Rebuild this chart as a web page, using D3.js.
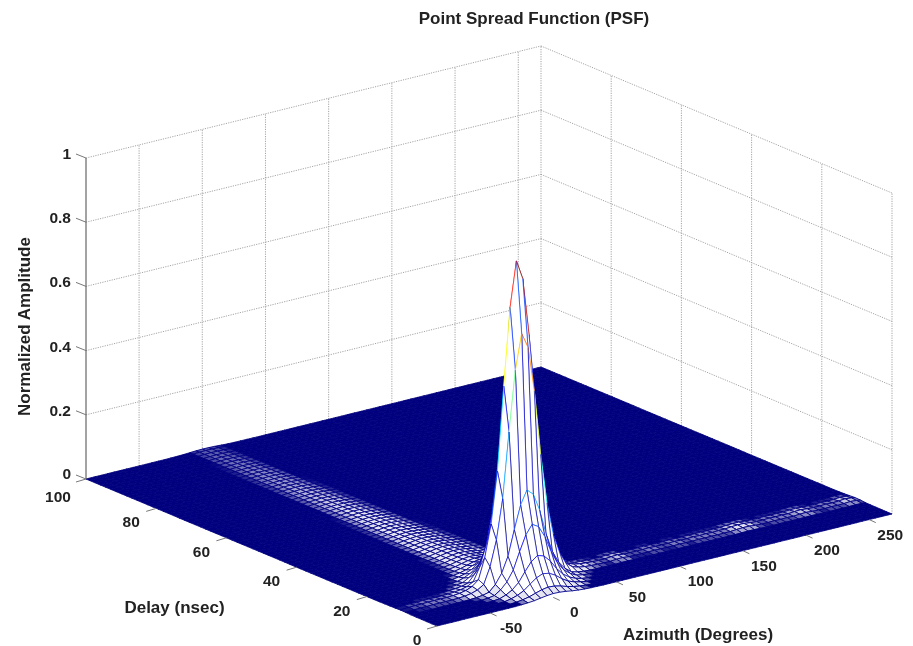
<!DOCTYPE html>
<html><head><meta charset="utf-8">
<script src="https://cdnjs.cloudflare.com/ajax/libs/d3/7.8.5/d3.min.js"></script>
<style>html,body{margin:0;background:#fff}svg{display:block;filter:blur(.4px)}
text{font-family:"Liberation Sans",Arial,sans-serif;font-weight:bold;fill:#222}</style>
</head><body><svg id="c" width="913" height="646"></svg>
<script>
const title="Point Spread Function (PSF)", xLabel="Azimuth (Degrees)", yLabel="Delay (nsec)", zLabel="Normalized Amplitude";
const azTicks=[-50,0,50,100,150,200,250];
const delayTicks=[0,20,40,60,80,100];
const zTicks=[0,0.2,0.4,0.6,0.8,1];
const zTickLabels=["0","0.2","0.4","0.6","0.8","1"];
const azimuth=[-92,-85,-80,-75,-70,-65,-60,-55,-50,-45,-40,-35,-30,-25,-20,-15,-10,-5,0,5,10,15,20,25,30,35,40,45,50,55,60,65,70,75,80,85,90,95,100,105,110,115,120,125,130,135,140,145,150,155,160,165,170,175,180,185,190,195,200,205,210,215,220,225,230,235,240,245,250,255,260,265,268];
const azProfile=[.002,.003,.004,.004,.005,.005,.005,.005,.006,.008,.012,.02,.036,.1,.2,.36,.62,.86,1,.94,.76,.5,.3,.17,.09,.04,.02,.012,.008,.006,.005,.004,.004,.006,.007,.004,.004,.004,.004,.005,.004,.004,.004,.005,.004,.004,.005,.004,.005,.004,.005,.005,.007,.008,.008,.005,.004,.004,.005,.004,.005,.004,.006,.007,.005,.004,.004,.005,.004,.005,.007,.005,.003];
const delay=[0,1.5,3,4.5,6,7.5,9,10.5,12,13.5,15,16.5,18,19.5,21,22.5,24,25.5,27,28.5,30,31.5,33,34.5,36,37.5,39,40.5,42,43.5,45,46.5,48,49.5,51,52.5,54,55.5,57,58.5,60,61.5,63,64.5,66,67.5,69,70.5,72,73.5,75,76.5,78,79.5,81,82.5,84,85.5,87,88.5,90,91.5,93,94.5,96,97.5,99,100];
const delayProfile=[.012,.025,.06,.11,.2,.3,.78,1,.62,.33,.17,.09,.05,.03,.022,.019,.017,.016,.015,.015,.014,.014,.013,.013,.012,.012,.011,.011,.01,.01,.0098,.0095,.0092,.009,.0088,.0085,.0083,.008,.0078,.0076,.0075,.0073,.0072,.007,.0068,.0066,.0065,.0063,.0062,.006,.0058,.0057,.0056,.0055,.0054,.0053,.0052,.005,.0049,.0048,.0047,.0046,.0045,.0044,.0043,.0042,.0041,.004];

const az=d3.scaleLinear().domain([-92,268]).range([0,1]);
const de=d3.scaleLinear().domain([0,100]).range([0,1]);
const zs=d3.scaleLinear().domain([0,1]).range([0,321]);
function P(a,d,z){const u=az(a),v=de(d);return [437+u*455-v*351,626-u*112-v*147-zs(z)];}
const jet=d3.scaleLinear().domain([0,.125,.375,.625,.875,1]).range(["#00007f","#0000ff","#00ffff","#ffff00","#ff0000","#800000"]).clamp(true);
const svg=d3.select("#c");
const line=(g,a,b,col,w,op)=>g.append("line").attr("x1",a[0]).attr("y1",a[1]).attr("x2",b[0]).attr("y2",b[1]).attr("stroke",col).attr("stroke-width",w).attr("stroke-opacity",op||null);
const A0=-92,A1=268,D1=100;
const wall=svg.append("g").attr("stroke-dasharray","1.2 1.2");
const gc="#a4a4a4";
zTicks.forEach(z=>{
  line(wall,P(A0,D1,z),P(A1,D1,z),gc,1);
  line(wall,P(A1,D1,z),P(A1,0,z),gc,1);
});
azTicks.forEach(a=>line(wall,P(a,D1,0),P(a,D1,1),gc,1));
delayTicks.filter(d=>d>0&&d<100).forEach(d=>line(wall,P(A1,d,0),P(A1,d,1),gc,1));
line(wall,P(A1,D1,0),P(A1,D1,1),gc,1);
line(wall,P(A1,0,0),P(A1,0,1),gc,1);
const surf=svg.append("g");
const H=(i,j)=>azProfile[i]*delayProfile[j];
const navy="#00007f";
const mix=d3.interpolateRgb(navy,"#ffffff");
for(let j=delay.length-2;j>=0;j--){
  for(let i=azimuth.length-2;i>=0;i--){
    const zz=[H(i,j),H(i+1,j),H(i+1,j+1),H(i,j+1)];
    const pts=[P(azimuth[i],delay[j],zz[0]),P(azimuth[i+1],delay[j],zz[1]),P(azimuth[i+1],delay[j+1],zz[2]),P(azimuth[i],delay[j+1],zz[3])];
    const top=d3.max(zz), px=zs(top);
    const path="M"+pts.map(p=>p[0].toFixed(1)+","+p[1].toFixed(1)).join("L")+"Z";
    if(px<=.9){surf.append("path").attr("d",path).attr("fill",navy).attr("stroke",navy).attr("stroke-width",.8);continue;}
    const steep=top>.03;
    const t=steep?1:Math.min(.9,Math.pow((px-.9)/2,.7));
    surf.append("path").attr("d",path).attr("fill",mix(t));
    const w=steep?.9:.9, op=steep?.75:1;
    line(surf,pts[0],pts[1],jet(zz[0]),w,op);
    line(surf,pts[0],pts[3],jet(Math.min(zz[0],zz[3])*.25),w,op);
    line(surf,pts[1],pts[2],jet(Math.min(zz[1],zz[2])*.25),w,op);
    line(surf,pts[3],pts[2],jet(zz[3]),w,op);
  }
}
const ax=svg.append("g"),tc="#777";
line(ax,P(A0,D1,0),P(A0,D1,1),"#666",1.2);
const tickEnd=(p,dx,dy)=>[p[0]+dx,p[1]+dy];
const fs=15.5;
zTicks.forEach((z,k)=>{const p=P(A0,D1,z);line(ax,p,tickEnd(p,-10,-4),tc,1);
  ax.append("text").attr("x",p[0]-15).attr("y",p[1]+(z===0?0:1)).attr("text-anchor","end").attr("font-size",fs).text(zTickLabels[k]);});
azTicks.forEach(a=>{const p=P(a,0,0);line(ax,p,tickEnd(p,6.5,3),tc,1);
  ax.append("text").attr("x",p[0]+21).attr("y",p[1]+20).attr("text-anchor","middle").attr("font-size",fs).text(a);});
delayTicks.forEach(d=>{const p=P(A0,d,0);line(ax,p,tickEnd(p,-10,3),tc,1);
  ax.append("text").attr("x",p[0]+(d===100?-28:d===0?-20:-25)).attr("y",p[1]+(d===100?23:19)).attr("text-anchor","middle").attr("font-size",fs).text(d);});
svg.append("text").attr("x",534).attr("y",24).attr("text-anchor","middle").attr("font-size",17).text(title);
svg.append("text").attr("x",174.5).attr("y",613).attr("text-anchor","middle").attr("font-size",17).text(yLabel);
svg.append("text").attr("x",698).attr("y",640).attr("text-anchor","middle").attr("font-size",17).text(xLabel);
svg.append("text").attr("transform","translate(30,326.5) rotate(-90)").attr("text-anchor","middle").attr("font-size",17).text(zLabel);
</script></body></html>
